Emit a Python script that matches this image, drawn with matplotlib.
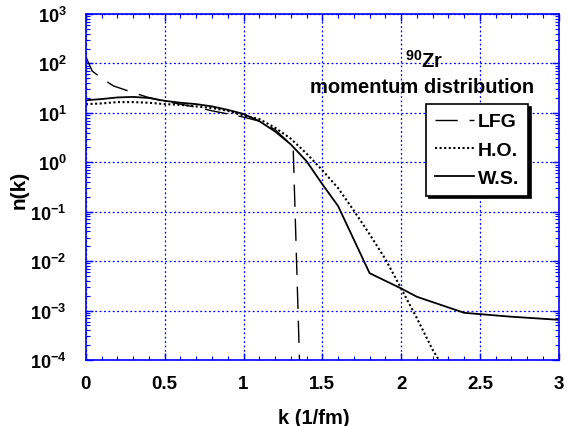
import numpy as np
import matplotlib
matplotlib.use("Agg")
import matplotlib.pyplot as plt
from matplotlib.ticker import FixedLocator, LogLocator, NullFormatter, MultipleLocator

plt.rcParams['font.family'] = ['Liberation Sans', 'DejaVu Sans']
plt.rcParams['font.weight'] = 'bold'
plt.rcParams['mathtext.fontset'] = 'custom'
plt.rcParams['mathtext.rm'] = 'Liberation Sans:bold'
plt.rcParams['mathtext.bf'] = 'Liberation Sans:bold'
plt.rcParams['mathtext.default'] = 'bf'

# local Fermi gas
k_lfg = [0.0, 0.04, 0.1, 0.175, 0.265, 0.385, 0.5, 0.6, 0.7, 0.8, 0.9, 1.0,
         1.1, 1.2, 1.3, 1.315, 1.355]
n_lfg = [135, 70, 50, 35, 28, 21, 17, 15, 13, 11, 9.5, 8.2,
         6.8, 4.6, 2.3, 2.0, 1e-4]

# harmonic oscillator
k_ho = [0.0, 0.1, 0.2, 0.3, 0.4, 0.5, 0.6, 0.7, 0.8, 0.9, 1.0, 1.1, 1.2,
        1.3, 1.4, 1.5, 1.6, 1.7, 1.8, 1.9, 2.0, 2.1, 2.2, 2.24]
n_ho = [15, 15.5, 16.5, 16.5, 16, 15, 14.5, 13.5, 12.5, 11, 8.8, 7.5, 5,
        3.0, 1.5, 0.69, 0.30, 0.105, 0.035, 0.011, 2.8e-3, 7e-4, 1.6e-4, 1e-4]

# Woods-Saxon
k_ws = [0.0, 0.1, 0.2, 0.3, 0.4, 0.5, 0.6, 0.7, 0.8, 0.9, 1.0, 1.1, 1.2,
        1.3, 1.4, 1.5, 1.6, 1.8, 2.0, 2.1, 2.4, 2.7, 3.0]
n_ws = [18, 19, 20.5, 21, 20, 17.5, 16, 15, 13.5, 11.5, 9.5, 6.8, 4.2,
        2.3, 1.05, 0.36, 0.13, 5.7e-3, 2.8e-3, 1.9e-3, 9e-4, 7.5e-4, 6.5e-4]

fig = plt.figure(figsize=(5.69, 4.27), dpi=100)
ax = fig.add_axes([0.151, 0.1546, 0.831, 0.8103])

ax.plot(k_lfg, n_lfg, color='black', lw=1.0, dashes=(16, 8.5), label='LFG')
ax.plot(k_ho, n_ho, color='black', lw=1.5, dashes=(1, 1.2), label='H.O.')
ax.plot(k_ws, n_ws, color='black', lw=1.3, label='W.S.')

ax.set_yscale('log')
ax.set_xlim(0, 3)
ax.set_ylim(1e-4, 1e3)

blue = '#0000ff'
for s in ax.spines.values():
    s.set_color(blue)
    s.set_linewidth(1.2)

ax.xaxis.set_major_locator(FixedLocator([0, 0.5, 1, 1.5, 2, 2.5, 3]))
ax.xaxis.set_minor_locator(MultipleLocator(0.1))
ax.set_xticklabels(['0', '0.5', '1', '1.5', '2', '2.5', '3'])
ax.yaxis.set_major_locator(LogLocator(base=10, numticks=10))
ax.yaxis.set_minor_locator(LogLocator(base=10, subs=np.arange(2, 10), numticks=10))
ax.yaxis.set_minor_formatter(NullFormatter())
yt = [1e-4, 1e-3, 1e-2, 1e-1, 1e0, 1e1, 1e2, 1e3]
ax.set_yticks(yt)
ax.set_yticklabels([r'$10^{%d}$' % int(np.log10(v)) for v in yt])

ax.tick_params(which='both', direction='in', color=blue, top=True, right=True)
ax.tick_params(which='major', length=5, width=1)
ax.tick_params(which='minor', length=3, width=0.8)
ax.tick_params(axis='x', pad=11, labelsize=13.5)
ax.tick_params(axis='y', pad=14, labelsize=13)

ax.grid(True, which='major', color=blue, linestyle=(0, (1.5, 2)), lw=0.9)

fig.text(0.552, 0.021, 'k (1/fm)', ha='center', va='center',
         fontsize=14.5, fontweight='bold')
fig.text(0.033, 0.555, 'n(k)', ha='center', va='center', rotation=90,
         fontsize=15, fontweight='bold')

ax.text(0.715, 0.868, r'$^{90}$Zr', transform=ax.transAxes, ha='center',
        va='center', fontsize=14.5, fontweight='bold')
ax.text(0.71, 0.79, 'momentum distribution', transform=ax.transAxes,
        ha='center', va='center', fontsize=14.5, fontweight='bold')

leg = ax.legend(loc='upper left', bbox_to_anchor=(0.72, 0.74), frameon=True,
                fancybox=False, shadow={'color': 'black', 'alpha': 1},
                edgecolor='black', fontsize=14, handlelength=2.0,
                handletextpad=0.2, borderpad=0.45, labelspacing=0.55,
                borderaxespad=0)
leg.get_frame().set_linewidth(1.2)
leg.get_frame().set_alpha(1)

fig.savefig('out.png', dpi=100)
